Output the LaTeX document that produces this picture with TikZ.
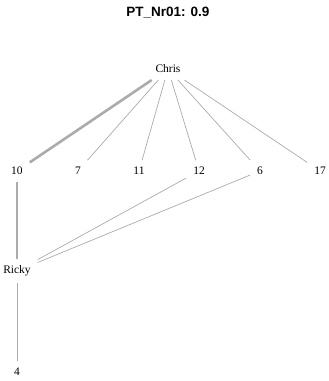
\documentclass[tikz,border=0pt]{standalone}
\usepackage{fontspec}
\setmainfont{Liberation Serif}
\setsansfont{Liberation Sans}
\begin{document}
\begin{tikzpicture}[x=1pt,y=-1pt]
\tikzstyle{vertex}=[inner sep=5pt, outer sep=2pt, font=\fontsize{11.5}{13}\selectfont]
\tikzstyle{tie}=[draw=black!33, line width=0.7pt]
\tikzstyle{strong}=[draw=black!33, line width=2.6pt]
\useasboundingbox (0,0) rectangle (329,381);
\node[font=\sffamily\bfseries\fontsize{13.5}{15}\selectfont] (title) at (168,13) {PT\_Nr01: 0.9};

\node[vertex] (Chris) at (168,69) {Chris};
\node[vertex] (n10)   at ( 17,171) {10};
\node[vertex] (n7)    at ( 78,171) {7};
\node[vertex] (n11)   at (139,171) {11};
\node[vertex] (n12)   at (199,171) {12};
\node[vertex] (n6)    at (260,171) {6};
\node[vertex] (n17)   at (320,171) {17};
\node[vertex] (Ricky) at ( 17,271) {Ricky};
\node[vertex] (n4)    at ( 17,372) {4};

\draw[strong] (Chris) -- (n10);
\draw[tie] (Chris) -- (n7);
\draw[tie] (Chris) -- (n11);
\draw[tie] (Chris) -- (n12);
\draw[tie] (Chris) -- (n6);
\draw[tie] (Chris) -- (n17);
\draw[strong] (n10) -- (Ricky);
\draw[tie] (Ricky) -- (n12);
\draw[tie] (Ricky) -- (n6);
\draw[tie] (Ricky) -- (n4);
\end{tikzpicture}
\end{document}
